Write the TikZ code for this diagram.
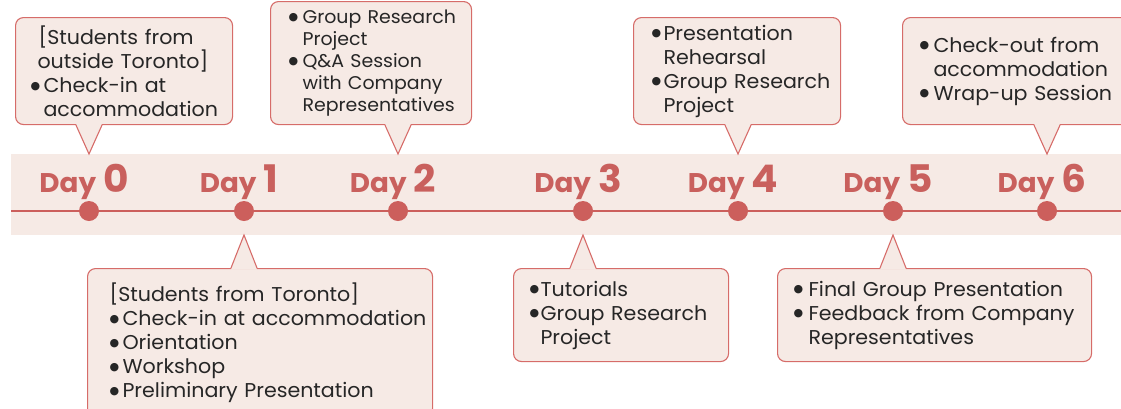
\documentclass[tikz,border=0pt]{standalone}
\usepackage{fontspec}
\setmainfont{Poppins}[FakeStretch=1.03]
\newfontfamily\symf{DejaVu Sans}
\usetikzlibrary{calc}
\definecolor{bandfill}{HTML}{F6EAE5}
\definecolor{boxfill}{HTML}{F6EAE5}
\definecolor{boxline}{HTML}{D66C69}
\definecolor{redline}{HTML}{CC5F5C}
\definecolor{daycol}{HTML}{C9605D}
\definecolor{txt}{HTML}{262626}
\newcommand{\bul}{\raisebox{3.2pt}{\symf\fontsize{11}{11}\selectfont ●}}
\newcommand{\bi}[2]{\mbox{\makebox[#1][l]{\bul}#2}}
\newcommand{\ci}[2]{\mbox{\hspace*{#1}#2}}
\newcommand{\dayl}[1]{{\fontsize{27}{30}\selectfont Day\hspace{7pt}}{\fontsize{38}{40}\selectfont #1}}
\tikzset{
  callout/.style={draw=boxline, fill=boxfill, line width=1.1pt, rounded corners=8pt,
    anchor=north west, align=left, text=txt, inner ysep=0pt,
    font=\fontsize{20}{24}\selectfont},
  tailfill/.style={fill=boxfill},
  tailline/.style={draw=boxline, line width=1.1pt, line join=miter},
  dot/.style={circle, fill=redline, minimum size=20pt, inner sep=0pt},
  daylabel/.style={text=daycol, font=\bfseries, anchor=base, inner sep=0pt}
}
\begin{document}
\begin{tikzpicture}[x=1pt,y=-1pt]
\useasboundingbox (0,0) rectangle (1121,408);
\clip (0,0) rectangle (1121,408);
% band
\fill[bandfill] (11,154) rectangle (1125,235);
\coordinate (ls) at (11,211);
\coordinate (le) at (1125,211);
\draw[redline, line width=2pt] (ls) -- (le);
% dots
\foreach \i/\x in {0/89,1/244,2/398,3/583,4/738,5/893,6/1047}{
  \node[dot] (d\i) at (\x,211) {};
  \node[daylabel] (l\i) at (\x-5,192) {\dayl{\i}};
  \coordinate (tt\i) at (\x,154);
  \coordinate (tb\i) at (\x,235);
}
% top callouts
\node[callout, inner xsep=15pt, text width=187pt, minimum height=107pt] (b0) at (15,17)
 {\ci{8pt}{[Students from}\\ \ci{7pt}{outside Toronto]}\\ \bi{13pt}{Check-in at}\\ \ci{13pt}{accommodation}};
\node[callout, inner xsep=18pt, text width=165pt, minimum height=123pt,
  font=\fontsize{18.4}{22}\selectfont] (b2) at (270,1)
 {\bi{14pt}{Group Research}\\ \ci{14pt}{Project}\\ \bi{14pt}{Q\&A Session}\\ \ci{14pt}{with Company}\\ \ci{14pt}{Representatives}};
\node[callout, inner xsep=18pt, text width=171pt, minimum height=107pt] (b4) at (633,17)
 {\bi{12pt}{Presentation}\\ \ci{12pt}{Rehearsal}\\ \bi{12pt}{Group Research}\\ \ci{12pt}{Project}};
\node[callout, inner xsep=17pt, text width=206pt, minimum height=107pt] (b6) at (902,17)
 {\bi{14pt}{Check-out from}\\ \ci{14pt}{accommodation}\\ \bi{14pt}{Wrap-up Session}};
% bottom callouts
\node[callout, inner xsep=22pt, text width=301pt, minimum height=148pt] (b1) at (87,268)
 {\ci{0pt}{[Students from Toronto]}\\ \bi{13pt}{Check-in at accommodation}\\ \bi{13pt}{Orientation}\\ \bi{13pt}{Workshop}\\ \bi{13pt}{Preliminary Presentation}};
\node[callout, inner xsep=16pt, text width=183pt, minimum height=93pt] (b3) at (513,268)
 {\bi{11pt}{Tutorials}\\ \bi{11pt}{Group Research}\\ \ci{11pt}{Project}};
\node[callout, inner xsep=16pt, text width=282pt, minimum height=93pt] (b5) at (777,268)
 {\bi{15pt}{Final Group Presentation}\\ \bi{15pt}{Feedback from Company}\\ \ci{15pt}{Representatives}};
% tails (top)
\foreach \i in {0,2,4,6}{
  \path (d\i |- b\i.south) coordinate (m\i);
  \fill[tailfill] ([xshift=-13pt,yshift=1.5pt]m\i) -- (tt\i) -- ([xshift=13pt,yshift=1.5pt]m\i) -- cycle;
  \draw[tailline] ([xshift=-13pt]m\i) -- (tt\i) -- ([xshift=13pt]m\i);
}
% tails (bottom)
\foreach \i in {1,3,5}{
  \path (d\i |- b\i.north) coordinate (m\i);
  \fill[tailfill] ([xshift=-13pt,yshift=-1.5pt]m\i) -- (tb\i) -- ([xshift=13pt,yshift=-1.5pt]m\i) -- cycle;
  \draw[tailline] ([xshift=-13pt]m\i) -- (tb\i) -- ([xshift=13pt]m\i);
}
\end{tikzpicture}
\end{document}
